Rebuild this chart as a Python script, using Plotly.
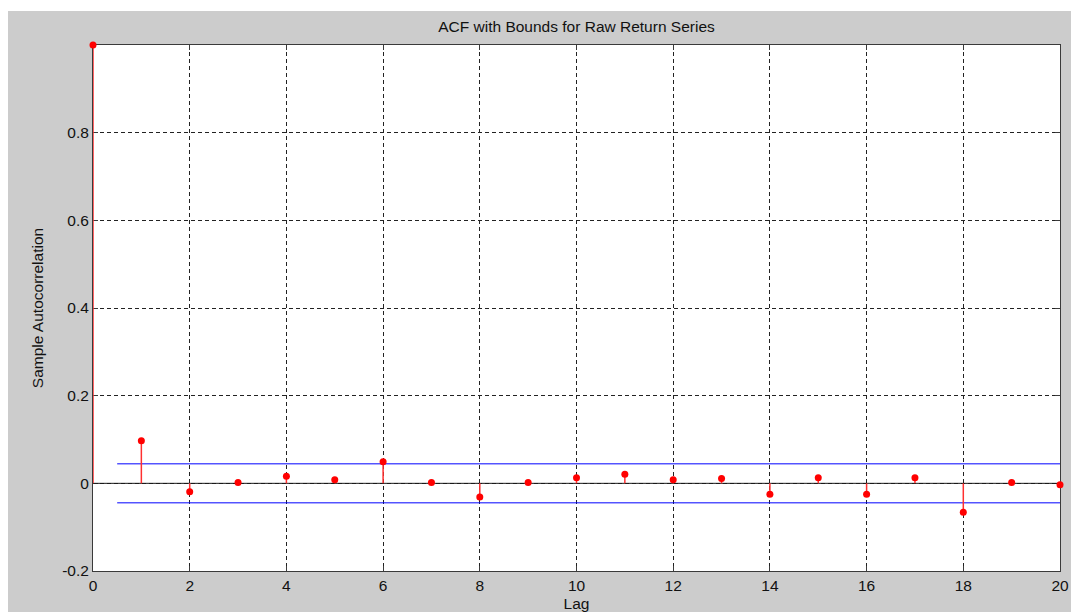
import plotly.graph_objects as go

lags = list(range(0, 21))
acf = [1.0, 0.097, -0.019, 0.002, 0.016, 0.008, 0.049, 0.002, -0.031, 0.002,
       0.013, 0.021, 0.008, 0.011, -0.025, 0.013, -0.025, 0.013, -0.066, 0.002, -0.003]
upper_bound = 0.0445
lower_bound = -0.0445
bound_x = [0.5, 20]
x_ticks = [0, 2, 4, 6, 8, 10, 12, 14, 16, 18, 20]
y_ticks = [-0.2, 0, 0.2, 0.4, 0.6, 0.8]
y_tick_text = ["-0.2", "0", "0.2", "0.4", "0.6", "0.8"]

W, H = 1079, 612
ml, mr, mt, mb = 85, 27, 37, 49
pw = W - ml - mr
ph = H - mt - mb

stem_x, stem_y = [], []
for l, v in zip(lags, acf):
    stem_x += [l, l, None]
    stem_y += [0, v, None]

fig = go.Figure()
# zero line
fig.add_trace(go.Scatter(x=[0, 20], y=[0, 0], mode="lines",
                         line=dict(color="#1a1a1a", width=1), hoverinfo="skip"))
# bounds
fig.add_trace(go.Scatter(x=bound_x, y=[upper_bound, upper_bound], mode="lines",
                         line=dict(color="#0000ff", width=1), hoverinfo="skip"))
fig.add_trace(go.Scatter(x=bound_x, y=[lower_bound, lower_bound], mode="lines",
                         line=dict(color="#0000ff", width=1), hoverinfo="skip"))
# stems
fig.add_trace(go.Scatter(x=stem_x, y=stem_y, mode="lines",
                         line=dict(color="#ff3030", width=1.5), hoverinfo="skip",
                         cliponaxis=False))
# markers
fig.add_trace(go.Scatter(x=lags, y=acf, mode="markers",
                         marker=dict(color="#ff0000", size=7, line=dict(width=0)),
                         cliponaxis=False))

# figure background: thin white strip at top, grey elsewhere, white plot area
gx0 = -ml / pw
gx1 = (W - ml + 20) / pw
gy1 = (H - 3 - mb) / ph
gy0 = (-mb - 20) / ph
fig.add_shape(type="rect", xref="paper", yref="paper", x0=gx0, x1=gx1, y0=gy0, y1=gy1,
              fillcolor="#cccccc", line=dict(width=0), layer="below")
fig.add_shape(type="rect", xref="paper", yref="paper", x0=0, x1=1, y0=0, y1=1,
              fillcolor="#ffffff", line=dict(width=0), layer="below")

axis_common = dict(
    showline=True, linecolor="#3a3a3a", linewidth=1, mirror="ticks",
    ticks="inside", ticklen=5, tickcolor="#3a3a3a", tickwidth=1,
    showgrid=True, gridcolor="#222222", gridwidth=1, griddash="4px,3px",
    zeroline=False, tickfont=dict(size=15.5, color="#111111"),
    layer="below traces",
)

fig.update_layout(
    width=W, height=H,
    margin=dict(l=ml, r=mr, t=mt, b=mb),
    paper_bgcolor="#ffffff", plot_bgcolor="rgba(0,0,0,0)",
    font=dict(family="Liberation Sans, Arial, sans-serif", size=15.5, color="#111111"),
    showlegend=False,
    title=dict(text="ACF with Bounds for Raw Return Series", x=(ml + pw / 2) / W,
               xanchor="center", y=1 - 18.5 / H, yanchor="middle",
               font=dict(size=15.5, color="#111111")),
    xaxis=dict(range=[0, 20], tickvals=x_ticks, ticktext=[str(t) for t in x_ticks],
               title=dict(text="Lag", standoff=5, font=dict(size=15.5)), **axis_common),
    yaxis=dict(range=[-0.2, 1.0], tickvals=y_ticks, ticktext=y_tick_text,
               title=dict(text="Sample Autocorrelation", standoff=14, font=dict(size=15.5)), **axis_common),
)

fig.write_html("out.html")
